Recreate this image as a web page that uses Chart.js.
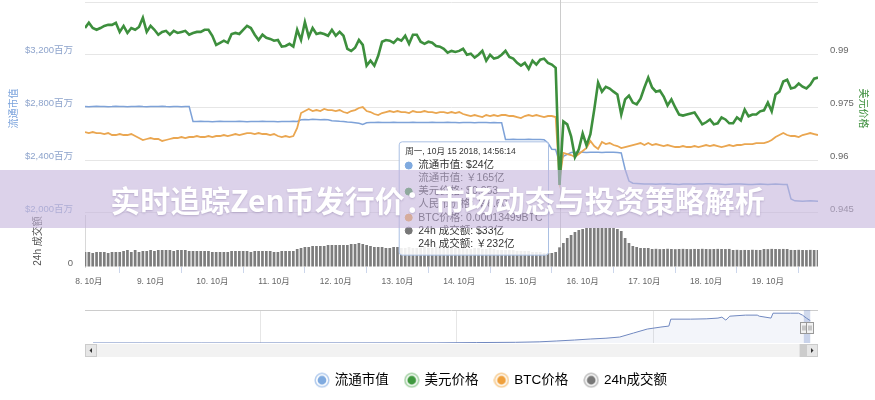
<!DOCTYPE html>
<html lang="zh-CN">
<head>
<meta charset="utf-8">
<title>Zen 行情走势</title>
<script src="https://cdn.jsdelivr.net/npm/chart.js@4.4.1/dist/chart.umd.min.js"></script>
<style>
  html, body { margin: 0; padding: 0; background: #fff; }
  body { width: 875px; height: 400px; overflow: hidden; position: relative; }
  #mainWrap { position: absolute; left: 0; top: 0; }
  #navWrap { position: absolute; left: 0; top: 300px; }
  .banner {
    position: absolute; left: 0; top: 170px; width: 875px; height: 58px;
    background: rgba(196, 180, 220, 0.6);
    color: #fff; font: 700 30px "Noto Sans CJK SC", sans-serif;
    display: flex; align-items: center; justify-content: center;
    white-space: nowrap; text-shadow: 0 1px 2px rgba(80, 60, 110, 0.25);
  }
</style>
</head>
<body>
<div id="mainWrap"><canvas id="mainChart" width="875" height="295"></canvas></div>
<div id="navWrap"><canvas id="navChart" width="983" height="100"></canvas></div>
<div class="banner">实时追踪Zen币发行价：市场动态与投资策略解析</div>
<script>
// Sample times: hours from 8 Oct 2018 00:00, one sample every 1.5 h
const startHour = -1.5;
const stepHours = 1.5;

// Circulating market cap, million USD
const capMln = [
  2808,2806,2808,2809,2807,2808,2806,2807,2809,2808,2807,2806,2808,2808,2810,2807,2806,2808,2807,2808,2809,2807,2806,2808,2807,2806,2808,2807,
  2694,2693,2695,2694,2694,2692,2694,2695,2693,2694,2694,2693,2695,2694,2692,2694,2693,2694,2695,2694,2693,2694,2692,2694,2693,2694,2695,2694,
  2707,2709,2708,2710,2709,2708,2709,2707,
  2700,2698,2695,2693,2690,2688,2685,2680,
  2672,
  2684,2686,2687,2688,2687,2686,2687,2688,2687,2686,2687,2687,2688,2686,2687,2687,2686,2688,2687,2686,2687,2688,2687,2686,2685,2686,2687,2686,2685,2686,2687,2686,2685,2686,2685,2684,
  2558,2557,2559,2558,2557,2558,2559,2558,2557,2558,2556,
  2530,2484,2482,2380,2430,2445,
  2458,2460,2461,2460,2459,2460,2461,2460,2459,2460,2461,2460,2459,2455,
  2332,2242,
  2226,2224,2222,2220,2219,2220,2218,2219,2220,2221,2219,2218,2217,2219,2220,2219,2218,2219,2220,2221,2222,2220,2219,2218,2217,2218,2219,2220,2219,2218,2217,2216,2218,2219,2218,2217,2218,2219,2218,2217,2216,
  2106,
  2092,2091,2090,2091,2092,2091,2090
];

// USD price
const usdPrice = [
  0.9976,0.9991,0.9976,0.9971,0.9976,0.9982,0.9985,0.9985,0.9991,0.9965,
  0.9982,0.9962,0.9976,0.9971,0.9979,1.0005,0.9965,0.9982,0.9971,0.9957,
  0.9965,0.9968,0.9957,0.9968,0.9962,0.9965,0.9968,0.9957,0.9962,0.9965,
  0.9965,0.9971,0.9971,0.9954,0.9928,0.9934,0.9940,0.9934,0.9959,0.9962,
  0.9959,0.9971,0.9982,0.9976,0.9957,0.9942,0.9957,0.9948,0.9945,0.9940,
  0.9942,0.9923,0.9925,0.9931,0.9923,0.9971,0.9942,0.9993,0.9951,0.9976,
  0.9959,0.9962,0.9959,0.9954,0.9971,0.9954,0.9965,0.9954,0.9917,0.9911,
  0.9920,0.9942,0.9928,0.9869,0.9883,0.9869,0.9897,0.9937,0.9942,0.9940,
  0.9934,0.9945,0.9940,0.9954,0.9931,0.9957,0.9957,0.9937,0.9931,0.9937,
  0.9934,0.9925,0.9923,0.9917,0.9906,0.9911,0.9908,0.9911,0.9917,0.9900,
  0.9903,0.9892,0.9900,0.9911,0.9883,0.9900,0.9889,0.9892,0.9900,0.9911,
  0.9894,0.9889,0.9877,0.9869,0.9877,0.9860,0.9883,0.9872,0.9886,0.9889,
  0.9877,0.9872,0.9863,0.9530,0.9710,0.9702,0.9668,0.9609,0.9631,0.9676,
  0.9642,0.9674,0.9744,0.9821,0.9795,0.9809,0.9804,0.9795,0.9787,0.9730,
  0.9773,0.9784,0.9764,0.9759,0.9775,0.9807,0.9835,0.9807,0.9795,0.9798,
  0.9781,0.9756,0.9773,0.9750,0.9730,0.9727,0.9730,0.9733,0.9736,0.9719,
  0.9702,0.9708,0.9716,0.9702,0.9705,0.9722,0.9716,0.9705,0.9705,0.9722,
  0.9713,0.9744,0.9725,0.9730,0.9730,0.9739,0.9742,0.9764,0.9739,0.9787,
  0.9795,0.9824,0.9829,0.9804,0.9807,0.9818,0.9809,0.9804,0.9815,0.9832,0.9835
];

// BTC price, satoshi (1e-8 BTC)
const btcSat = [
  14607,14584,14607,14584,14584,14561,14584,14538,14538,14561,
  14538,14538,14561,14515,14469,14423,14446,14469,14446,14446,
  14400,14423,14446,14469,14469,14492,14469,14492,14492,14515,
  14492,14492,14515,14492,14515,14515,14538,14515,14538,14561,
  14538,14561,14584,14584,14561,14584,14561,14561,14538,14561,
  14515,14492,14515,14492,14515,14700,15046,15092,15139,15092,
  15115,15092,15139,15115,15115,15092,15115,15069,15046,15092,
  15115,15162,15185,15092,15069,15023,15000,15046,15069,15092,
  15069,15092,15069,15069,15046,15092,15069,15069,15092,15069,
  15069,15046,15069,15069,15046,15069,15046,15069,15023,15000,
  14977,15000,14977,14954,15000,14977,15000,14977,15000,15000,
  14977,14977,14954,14931,14977,15000,14977,15000,14977,14954,
  14977,14977,14954,13499,14123,14099,14076,14030,14099,14169,
  14238,14400,14284,14215,14377,14330,14353,14307,14284,14238,
  14261,14284,14307,14330,14353,14307,14353,14307,14330,14307,
  14284,14307,14284,14261,14261,14284,14261,14261,14284,14261,
  14284,14307,14284,14307,14284,14261,14284,14307,14284,14307,
  14307,14330,14330,14330,14353,14353,14353,14377,14423,14492,
  14538,14584,14538,14515,14515,14492,14538,14561,14584,14561,14538
];

// 24h volume, million USD
const volMln = [
  2550,2550,2380,2550,2550,2550,2380,2550,2550,2550,2720,2890,2550,2890,2550,
  2720,2720,2890,2720,2890,2890,2890,2890,2720,2890,2890,2890,2720,2720,2720,2720,2720,2720,
  2550,2550,2550,2550,2550,2720,2720,2720,2720,2720,2550,2720,2720,2720,2720,2720,2550,2550,2720,2720,2720,2720,
  3060,3230,3400,3400,3570,3570,3570,3570,3740,3740,3740,3740,3740,3740,3910,3910,4080,3910,
  3740,3570,3400,3400,3400,3230,3230,3400,3400,3230,3230,3400,3230,3230,3230,3400,3230,
  3230,3400,3400,3230,3230,3230,3230,3230,3230,3060,3060,3230,3230,3060,3060,3230,3060,
  2890,2890,2890,2890,2890,2720,2720,2720,2720,2550,2550,2550,2380,2380,2380,2550,
  3345,
  4080,4930,5440,5950,6290,6460,6630,6630,6630,6630,6630,6630,6630,6630,6460,6120,4930,4080,3570,3400,3230,
  3230,3230,
  3060,3090,3040,3060,3100,3060,3030,3060,3080,3060,3040,3070,3060,3090,3060,3040,3060,3080,3060,3050,3070,
  2890,2920,2880,2900,2890,2930,2900,2890,
  3060,3040,3080,3060,3050,3070,3060,
  2900,2890,2920,2890,2880,2910,2890,2900
];

const dayTickHours = [0, 24, 48, 72, 96, 120, 144, 168, 192, 216, 240, 264];
const dayTickLabels = ['8. 10月','9. 10月','10. 10月','11. 10月','12. 10月','13. 10月','14. 10月','15. 10月','16. 10月','17. 10月','18. 10月','19. 10月'];
const capTicks = [2000, 2400, 2800, 3200, 3600];
const capTickLabels = ['$2,000百万', '$2,400百万', '$2,800百万', '$3,200百万', ''];
const usdTicks = [0.945, 0.96, 0.975, 0.99];
const usdTickLabels = ['0.945', '0.96', '0.975', '0.99'];

// Navigator: full history of market cap (decimal year, million USD)
const navYears = [2015.15,2015.40,2015.70,2016.00,2016.30,2016.60,2016.90,2017.10,2017.30,2017.42,2017.51,2017.60,2017.68,2017.76,2017.83,2017.90,2017.97,2018.04,2018.08,2018.09,2018.19,2018.27,2018.33,2018.35,2018.37,2018.39,2018.47,2018.53,2018.54,2018.60,2018.61,2018.70,2018.74,2018.76,2018.78,2018.80];
const navCapMln = [0.3,0.2,0.5,1.5,4,8,12,40,65,110,190,280,375,450,560,935,1310,1500,1590,2240,2240,2270,2340,2430,2150,2520,2620,2620,2520,2340,2800,2800,2800,2620,2340,2100];
const yearTicks = [2016, 2017, 2018];
const yearTickLabels = ['2016', '2017', '2018'];

const seriesNames = ['流通市值', '美元价格', 'BTC价格', '24h成交额'];
const hoverIndex = 123;
const hoverTitle = '周一, 10月 15 2018, 14:56:14';
const cnyPerUsd = 6.93;

const COLORS = { cap: '#7ea2d8', usd: '#3d8f3d', btc: '#eaa650', vol: '#7d7d7d' };
const DOT = ['#7faadf', '#3f993f', '#efa03c', '#777777'];
const RING = ['#b5cdee', '#a3d1a3', '#f6cb8f', '#bdbdbd'];

Chart.defaults.font.family = '"Liberation Sans", "Noto Sans CJK SC", sans-serif';
Chart.defaults.color = '#666';

const hours = capMln.map((_, i) => startHour + i * stepHours);
const pts = arr => arr.map((v, i) => ({ x: hours[i], y: v }));
const fixTicks = values => scale => { scale.ticks = values.map(v => ({ value: v })); };
// fixed axis size, no extra room reserved for overhanging labels
const fixSize = (w, h) => s => {
  if (w != null) s.width = w;
  if (h != null) s.height = h;
  s.paddingTop = 0; s.paddingBottom = 0; s.paddingLeft = 0; s.paddingRight = 0;
};

// tooltip sits left of the crosshair, vertically fixed in the price panel
Chart.Tooltip.positioners.besideCrosshair = function (items) {
  if (!items.length) return false;
  return { x: items[0].element.x, y: this.chart.chartArea.top + 196.5 };
};

const crosshair = {
  id: 'crosshair',
  beforeDatasetsDraw(chart) {
    const x = Math.round(chart.scales.x.getPixelForValue(hours[hoverIndex])) + 0.5;
    const ctx = chart.ctx;
    ctx.save();
    ctx.strokeStyle = '#cccccc';
    ctx.lineWidth = 1;
    ctx.beginPath();
    ctx.moveTo(x, 0);
    ctx.lineTo(x, chart.chartArea.bottom);
    ctx.stroke();
    ctx.restore();
  }
};

const mainChart = new Chart(document.getElementById('mainChart'), {
  type: 'line',
  data: {
    datasets: [
      { type: 'line', label: seriesNames[0], data: pts(capMln), yAxisID: 'yCap',
        borderColor: COLORS.cap, backgroundColor: DOT[0], borderWidth: 1.5, pointRadius: 0, tension: 0, order: 2 },
      { type: 'line', label: seriesNames[1], data: pts(usdPrice), yAxisID: 'yUsd',
        borderColor: COLORS.usd, backgroundColor: DOT[1], borderWidth: 2.6, pointRadius: 0, tension: 0, order: 0 },
      { type: 'line', label: seriesNames[2], data: pts(btcSat), yAxisID: 'yBtc',
        borderColor: COLORS.btc, backgroundColor: DOT[2], borderWidth: 1.8, pointRadius: 0, tension: 0, order: 1 },
      { type: 'bar', label: seriesNames[3], data: pts(volMln), yAxisID: 'yVol',
        backgroundColor: COLORS.vol, barPercentage: 0.7, categoryPercentage: 1, order: 3 }
    ]
  },
  options: {
    responsive: false,
    animation: false,
    events: [],
    layout: { padding: { top: 2, left: 0, right: 0, bottom: 0 } },
    scales: {
      x: {
        type: 'linear', offset: false,
        min: hours[0], max: hours[hours.length - 1],
        afterBuildTicks: fixTicks(dayTickHours),
        ticks: { callback: (v, i) => dayTickLabels[i], autoSkip: false, maxRotation: 0,
                 font: { size: 8.5 }, color: '#666', padding: 4 },
        grid: { drawOnChartArea: false, drawTicks: true, tickLength: 6, tickColor: '#ccd6eb' },
        border: { display: false },
        afterFit: fixSize(null, 28)
      },
      yCap: {
        position: 'left', stack: 'left', stackWeight: 213, weight: 1,
        min: 1984.8, max: 3600,
        afterBuildTicks: fixTicks(capTicks),
        ticks: { callback: (v, i) => capTickLabels[i], padding: 12, labelOffset: -4,
                 font: { size: 9.5 }, color: '#8ea4cc' },
        grid: { color: '#e6e6e6', drawTicks: false },
        border: { display: false },
        title: { display: true, text: '流通市值', color: '#7ba3dc', font: { size: 10 },
                 padding: { top: 8, bottom: 0 } },
        afterFit: fixSize(85, null)
      },
      yVol: {
        position: 'left', stack: 'left', stackWeight: 52, weight: 0,
        min: 0, max: 8840,
        afterBuildTicks: fixTicks([0]),
        ticks: { callback: () => '0', padding: 12, labelOffset: -4, font: { size: 9.5 }, color: '#666' },
        grid: { drawOnChartArea: false, drawTicks: false },
        border: { display: true, color: '#d8d8d8' },
        title: { display: true, text: '24h 成交额', color: '#555', font: { size: 10 },
                 padding: { top: 32, bottom: 0 } },
        afterFit: fixSize(85, null)
      },
      yUsd: {
        position: 'right', stack: 'right', stackWeight: 213, weight: 0,
        min: 0.944431, max: 1.005,
        afterBuildTicks: fixTicks(usdTicks),
        ticks: { callback: (v, i) => usdTickLabels[i], padding: 12, labelOffset: -4,
                 font: { size: 9.5 }, color: '#666' },
        grid: { drawOnChartArea: false, drawTicks: false },
        border: { display: false },
        title: { display: true, text: '美元价格', color: '#3d8f3d', font: { size: 10 },
                 padding: { top: 6, bottom: 0 } },
        afterFit: fixSize(57, null)
      },
      yPad: {
        position: 'right', stack: 'right', stackWeight: 52, weight: 1,
        ticks: { display: false },
        grid: { drawOnChartArea: false, drawTicks: false },
        border: { display: false },
        afterFit: fixSize(57, null)
      },
      yBtc: { position: 'right', display: false, min: 11490, max: 17610 }
    },
    plugins: {
      legend: { display: false },
      tooltip: {
        enabled: true,
        position: 'besideCrosshair',
        xAlign: 'right', yAlign: 'center',
        caretSize: 0, caretPadding: 11,
        backgroundColor: 'rgba(255,255,255,0.88)',
        borderColor: '#a9bfe3', borderWidth: 1, cornerRadius: 3,
        titleColor: '#333', titleFont: { size: 8.5, weight: 'normal' }, titleMarginBottom: 2,
        bodyColor: '#333', bodyFont: { size: 10.5, lineHeight: 1.24 }, bodySpacing: 0,
        padding: { top: 5, bottom: 5, left: 6, right: 6 },
        displayColors: true, usePointStyle: true, boxWidth: 7, boxHeight: 7, boxPadding: 4,
        itemSort: (a, b) => a.datasetIndex - b.datasetIndex,
        callbacks: {
          title: () => hoverTitle,
          label: ctx => {
            const v = ctx.parsed.y;
            switch (ctx.datasetIndex) {
              case 0: return ['流通市值: $' + Math.round(v / 100) + '亿',
                              '流通市值: ￥' + Math.round(v * cnyPerUsd / 100) + '亿'];
              case 1: return ['美元价格: $' + v.toFixed(3),
                              '人民币价格: ￥' + (v * cnyPerUsd).toFixed(2)];
              case 2: return 'BTC价格: ' + (v / 1e8).toFixed(8) + 'BTC';
              default: return ['24h 成交额: $' + Math.round(v / 100) + '亿',
                               '24h 成交额: ￥' + Math.round(v * cnyPerUsd / 100) + '亿'];
            }
          },
          labelColor: ctx => ({ borderColor: DOT[ctx.datasetIndex], backgroundColor: DOT[ctx.datasetIndex] }),
          labelPointStyle: () => ({ pointStyle: 'circle', rotation: 0 })
        }
      }
    }
  },
  plugins: [crosshair]
});

mainChart.tooltip.setActiveElements(
  [0, 1, 2, 3].map(d => ({ datasetIndex: d, index: hoverIndex })),
  { x: 0, y: 0 }
);
mainChart.update();

// ---------- navigator, scrollbar and legend ----------
const dayOfYearOct8 = 280;
const selStartYear = 2018 + (dayOfYearOct8 + hours[0] / 24) / 365;
const selEndYear = 2018 + (dayOfYearOct8 + hours[hours.length - 1] / 24) / 365;

function ringIcon(outer, inner) {
  const c = document.createElement('canvas');
  c.width = 16; c.height = 16;
  const g = c.getContext('2d');
  g.beginPath(); g.arc(8, 8, 6.8, 0, Math.PI * 2);
  g.fillStyle = '#fff'; g.fill();
  g.lineWidth = 1.6; g.strokeStyle = outer; g.stroke();
  g.beginPath(); g.arc(8, 8, 4.4, 0, Math.PI * 2);
  g.fillStyle = inner; g.fill();
  return c;
}
const legendIcons = seriesNames.map((_, i) => ringIcon(RING[i], DOT[i]));

const navDecor = {
  id: 'navDecor',
  afterDatasetsDraw(chart) {
    const { ctx, chartArea: a, scales: { x } } = chart;
    const l = x.getPixelForValue(selStartYear);
    const r = x.getPixelForValue(selEndYear);
    ctx.save();
    ctx.fillStyle = 'rgba(102,133,194,0.3)';
    ctx.fillRect(l, a.top, r - l, a.bottom - a.top);
    ctx.lineWidth = 1;
    [l, r].forEach(px => {
      const hx = Math.round(px) - 3.5, hy = a.top + 12.5;
      ctx.fillStyle = '#f2f2f2';
      ctx.strokeStyle = '#999999';
      ctx.fillRect(hx, hy, 7, 11);
      ctx.strokeRect(hx, hy, 7, 11);
      ctx.beginPath();
      ctx.moveTo(hx + 2.5, hy + 3); ctx.lineTo(hx + 2.5, hy + 8);
      ctx.moveTo(hx + 4.5, hy + 3); ctx.lineTo(hx + 4.5, hy + 8);
      ctx.stroke();
    });
    ctx.restore();
  },
  afterDraw(chart) {
    const { ctx, chartArea: a, scales: { x } } = chart;
    const top = a.bottom + 1, h = 13, L = a.left, R = a.right, bw = 12;
    const l = x.getPixelForValue(selStartYear);
    const r = x.getPixelForValue(selEndYear);
    ctx.save();
    ctx.fillStyle = '#f2f2f2';
    ctx.fillRect(L, top, R - L, h);
    const tw = Math.max(r - l, 6);
    const tx = Math.min(Math.max(l, L + bw), R - bw - tw);
    ctx.fillStyle = '#cccccc';
    ctx.fillRect(tx, top, tw, h);
    ctx.fillStyle = '#e6e6e6';
    ctx.fillRect(L, top, bw, h);
    ctx.fillRect(R - bw, top, bw, h);
    ctx.strokeStyle = '#cccccc';
    ctx.lineWidth = 1;
    ctx.strokeRect(L + 0.5, top + 0.5, bw - 1, h - 1);
    ctx.strokeRect(R - bw + 0.5, top + 0.5, bw - 1, h - 1);
    ctx.fillStyle = '#333';
    const cy = top + h / 2;
    ctx.beginPath();
    ctx.moveTo(L + 4.5, cy); ctx.lineTo(L + 7, cy - 2.5); ctx.lineTo(L + 7, cy + 2.5); ctx.closePath(); ctx.fill();
    ctx.beginPath();
    ctx.moveTo(R - 4.5, cy); ctx.lineTo(R - 7, cy - 2.5); ctx.lineTo(R - 7, cy + 2.5); ctx.closePath(); ctx.fill();
    ctx.restore();
  }
};

const navChart = new Chart(document.getElementById('navChart'), {
  type: 'line',
  data: {
    datasets: [{
      label: '流通市值历史',
      data: navYears.map((yr, i) => ({ x: yr, y: navCapMln[i] })),
      borderColor: '#7088c0', borderWidth: 1, pointRadius: 0, tension: 0,
      fill: 'origin', backgroundColor: 'rgba(102,133,194,0.08)'
    }]
  },
  options: {
    responsive: false,
    animation: false,
    events: [],
    layout: { padding: { top: 10, bottom: 3, left: 0, right: 0 } },
    scales: {
      x: {
        type: 'linear', min: 2015.109, max: 2018.839,
        afterBuildTicks: fixTicks(yearTicks),
        ticks: { callback: (v, i) => yearTickLabels[i], align: 'start', labelOffset: 3, padding: -11.5,
                 font: { size: 9 }, color: '#888', maxRotation: 0, autoSkip: false },
        grid: { color: '#e6e6e6', drawTicks: false },
        border: { display: false },
        afterFit: fixSize(null, 13.5)
      },
      y: {
        position: 'left', min: 0, max: 3100,
        afterBuildTicks: fixTicks([3100]),
        ticks: { display: false },
        grid: { color: '#cccccc', drawTicks: false },
        border: { display: false },
        afterFit: fixSize(85, null)
      },
      yR: {
        position: 'right',
        ticks: { display: false },
        grid: { drawOnChartArea: false, drawTicks: false },
        border: { display: false },
        afterFit: fixSize(165, null)
      }
    },
    plugins: {
      tooltip: { enabled: false },
      legend: {
        position: 'bottom', align: 'center', onClick: null,
        labels: {
          usePointStyle: true, boxWidth: 12, boxHeight: 14, padding: 17,
          color: '#333', font: { size: 13.5 },
          generateLabels: () => seriesNames.map((t, i) => ({
            text: t, pointStyle: legendIcons[i], fillStyle: DOT[i],
            strokeStyle: RING[i], lineWidth: 0, hidden: false
          }))
        }
      }
    }
  },
  plugins: [navDecor]
});
</script>
</body>
</html>
